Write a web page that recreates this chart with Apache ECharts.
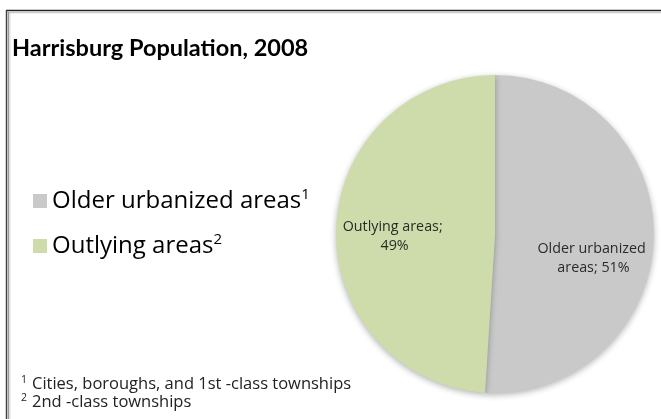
<!DOCTYPE html>
<html>
<head>
<meta charset="utf-8">
<style>
html,body{margin:0;padding:0;background:#fff;}
#chart{width:661px;height:419px;}
</style>
<script src="https://cdn.jsdelivr.net/npm/echarts@6/dist/echarts.min.js"></script>
</head>
<body>
<div id="chart"></div>
<script>
const titleText = 'Harrisburg Population, 2008';
const categories = ['Older urbanized areas', 'Outlying areas'];
const values = [51, 49];
const colors = ['#c9c9c9', '#cddcaa'];
const footMarks = ['1', '2'];
const footnotes = ['Cities, boroughs, and 1st -class townships', '2nd -class townships'];

const TFONT = 'Lato, "Open Sans", sans-serif';
const FONT = '"Open Sans", Lato, sans-serif';
const chart = echarts.init(document.getElementById('chart'));

const offsets = [[16, 22], [-18, 5]];

chart.setOption({
  animation: false,
  backgroundColor: '#fff',
  color: colors,
  graphic: [
    { type: 'line', shape: { x1: 6, y1: 10.5, x2: 661, y2: 10.5 }, style: { stroke: '#222', lineWidth: 1.5 } },
    { type: 'line', shape: { x1: 8, y1: 12.5, x2: 661, y2: 12.5 }, style: { stroke: '#ccc', lineWidth: 1.5 } },
    { type: 'line', shape: { x1: 6.5, y1: 10, x2: 6.5, y2: 419 }, style: { stroke: '#444', lineWidth: 1.5 } },
    { type: 'line', shape: { x1: 8.5, y1: 12, x2: 8.5, y2: 419 }, style: { stroke: '#999', lineWidth: 1.5 } },
    { type: 'line', shape: { x1: 10, y1: 13, x2: 10, y2: 419 }, style: { stroke: '#ddd', lineWidth: 1 } }
  ],
  title: [
    {
      text: titleText,
      left: 7, top: 31,
      textStyle: { fontFamily: TFONT, fontSize: 23.5, fontWeight: 'bold', color: '#000' }
    },
    {
      text: footnotes.map((t, i) => `{s|${footMarks[i]}} {t|${t}}`).join('\n'),
      left: 16, top: 370,
      textStyle: {
        fontWeight: 'normal',
        rich: {
          s: { fontFamily: FONT, fontSize: 10.5, fontWeight: 'normal', color: '#222', verticalAlign: 'top', lineHeight: 18 },
          t: { fontFamily: FONT, fontSize: 16.5, fontWeight: 'normal', color: '#222', lineHeight: 18 }
        }
      }
    }
  ],
  legend: {
    orient: 'vertical',
    left: 28, top: 182,
    icon: 'rect',
    itemWidth: 14, itemHeight: 14,
    itemGap: 19,
    data: categories,
    formatter: name => `{n|${name}}{s|${footMarks[categories.indexOf(name)]}}`,
    textStyle: {
      rich: {
        n: { fontFamily: FONT, fontSize: 24, color: '#000', lineHeight: 28 },
        s: { fontFamily: FONT, fontSize: 15, color: '#000', verticalAlign: 'top', lineHeight: 28 }
      }
    }
  },
  series: [{
    type: 'pie',
    center: [495, 234],
    radius: 159,
    startAngle: 90,
    clockwise: true,
    label: {
      show: true,
      position: 'inside',
      fontFamily: FONT,
      fontSize: 14.3,
      color: '#2a2a2a',
      lineHeight: 19,
      overflow: 'break',
      formatter: p => `${p.name}; ${p.value}%`
    },
    labelLayout: p => ({ dx: offsets[p.dataIndex][0], dy: offsets[p.dataIndex][1] }),
    itemStyle: { shadowBlur: 6, shadowColor: 'rgba(0,0,0,0.3)', shadowOffsetY: 2 },
    emphasis: { disabled: true },
    data: categories.map((c, i) => ({
      name: c, value: values[i],
      label: { width: i === 0 ? 124 : 120 }
    }))
  }]
});
</script>
</body>
</html>
